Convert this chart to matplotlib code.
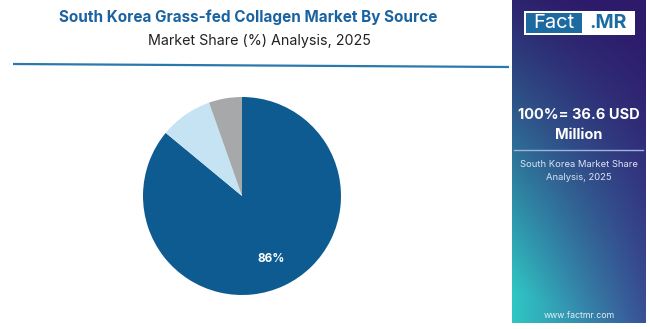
import matplotlib
matplotlib.use("Agg")
import matplotlib.pyplot as plt
import numpy as np
from matplotlib.patches import Rectangle

plt.rcParams['font.family'] = ['Inter', 'DejaVu Sans']

# Market share by source (%)
sources = ["Bovine", "Marine", "Others"]
shares = [86.0, 8.6, 5.4]
colors = ["#0d5b91", "#c6e3f3", "#a7a8aa"]
pct_labels = ["86%", "", ""]

title = "South Korea Grass-fed Collagen Market By Source"
subtitle = "Market Share (%) Analysis, 2025"
total_text = "100%= 36.6 USD\nMillion"
panel_caption = "South Korea Market Share\nAnalysis, 2025"
site = "www.factmr.com"

W, H = 650, 329
fig = plt.figure(figsize=(W / 100, H / 100), dpi=100)
fig.patch.set_facecolor("white")

# Background overlay axes in pixel coordinates
bg = fig.add_axes([0, 0, 1, 1])
bg.axis("off")

# Title block
bg.text(248, 17, title, ha="center", va="center", fontsize=11,
        fontweight="bold", color="#1b63a0")
bg.text(259, 41, subtitle, ha="center", va="center", fontsize=10.3,
        color="#222222")
bg.plot([13, 509], [64, 67], color="#2a78ad", lw=1.6, solid_capstyle="butt")

# Right-hand gradient panel
px0, px1, py0, py1 = 512, 646, 0, 323
ny, nx = 200, 100
yy, xx = np.mgrid[0:1:ny * 1j, 0:1:nx * 1j]
top = np.array([0x2d, 0x1a, 0x6a]) / 255
bot_left = np.array([0x2f, 0xc6, 0xc4]) / 255
bot_right = np.array([0x3a, 0x55, 0x98]) / 255
bottom = bot_left[None, None, :] * (1 - xx[..., None]) + bot_right[None, None, :] * xx[..., None]
t = np.clip(yy * 1.0 + 0.15 * (1 - xx) - 0.05, 0, 1)[..., None] ** 1.2
grad = top[None, None, :] * (1 - t) + bottom * t
bg.imshow(grad, extent=[px0, px1, py1, py0], aspect="auto", zorder=1,
          interpolation="bilinear")
bg.set_xlim(0, W)
bg.set_ylim(H, 0)

# Logo
bg.add_patch(Rectangle((524, 11), 111, 24, facecolor="white", edgecolor="none", zorder=2))
bg.add_patch(Rectangle((526, 13), 56, 20, facecolor="#1d6aa0", edgecolor="none", zorder=3))
bg.text(554, 23.5, "Fact", ha="center", va="center", fontsize=14.5,
        color="white", zorder=4)
bg.text(608, 23.5, ".MR", ha="center", va="center", fontsize=14,
        fontweight="bold", color="#1d6aa0", zorder=4)

bg.text(579, 125, total_text, ha="center", va="center", fontsize=10.5,
        fontweight="bold", color="white", linespacing=1.6, zorder=4)
bg.plot([514, 643], [150, 150], color="#9fb3dd", lw=1.0, zorder=4)
bg.text(579, 171, panel_caption, ha="center", va="center", fontsize=6.8,
        color="#dde3f3", linespacing=1.45, zorder=4)
bg.text(579, 316, site, ha="center", va="center", fontsize=6.3,
        color="#e6eef6", zorder=4)

# Pie chart
cx, cy, r = 242, 196, 99
ax = fig.add_axes([(cx - r) / W, 1 - (cy + r) / H, 2 * r / W, 2 * r / H])
wedges, _ = ax.pie(shares, colors=colors, startangle=90, counterclock=False,
                   wedgeprops=dict(linewidth=0))
for w, lab in zip(wedges, pct_labels):
    if not lab:
        continue
    ang = np.deg2rad((w.theta1 + w.theta2) / 2)
    ax.text(0.7 * np.cos(ang), 0.7 * np.sin(ang), lab, ha="center", va="center",
            fontsize=8.5, fontweight="bold", color="white")
ax.set_xlim(-1, 1)
ax.set_ylim(-1, 1)
ax.set_aspect("equal")

fig.savefig("out.png", dpi=100, facecolor="white")
